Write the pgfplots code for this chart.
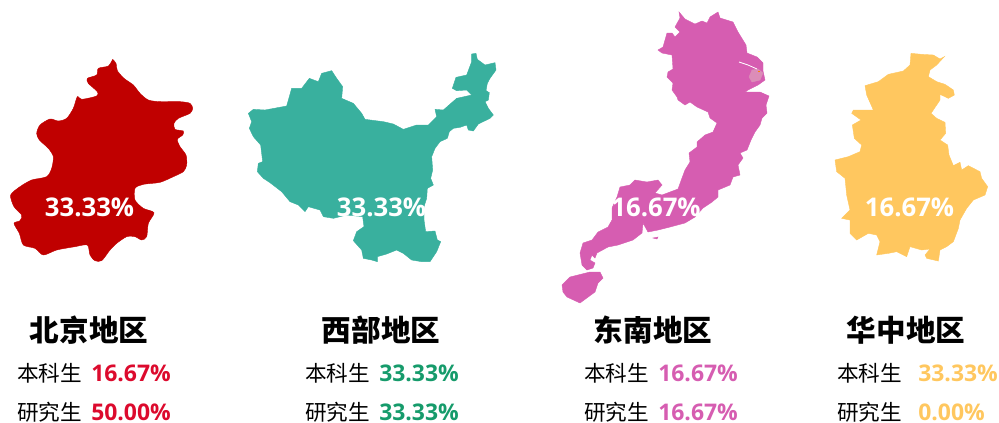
\documentclass[border=0pt]{standalone}
\usepackage{fontspec}
\usepackage{pgfplots}
\pgfplotsset{compat=1.18}
\setmainfont{Open Sans}
\newfontfamily\cjk{Noto Sans CJK SC}
\definecolor{cBeijing}{HTML}{C00000}
\definecolor{cWest}{HTML}{39B09E}
\definecolor{cSouth}{HTML}{D65DB1}
\definecolor{cCentral}{HTML}{FFC75F}
\definecolor{cRedText}{HTML}{DC0A2D}
\definecolor{cGreenText}{HTML}{169B6B}
\definecolor{cPatch}{HTML}{DC8DB8}
% one panel per region; coordinates are read off the picture, 1 px = 0.75pt
\pgfplotsset{
  map panel/.style={
    hide axis, scale only axis, clip=false, y dir=reverse,
    anchor=north west, enlargelimits=false,
  },
  region/.style={draw=#1, fill=#1, line width=0.3pt, forget plot},
}
\newcommand{\titlefont}{\cjk\fontsize{22.2}{24}\selectfont\bfseries}
\newcommand{\rowfont}{\cjk\fontsize{16.2}{18}\selectfont}
\newcommand{\pctfont}{\fontsize{17.2}{18}\selectfont\bfseries}
\newcommand{\mapfont}{\fontsize{19.3}{20}\selectfont\bfseries}
\begin{document}
\begin{tikzpicture}
\useasboundingbox (0,0) rectangle (749.25pt,-316.5pt);

% Beijing, zoomed px / 3
\begin{axis}[map panel, at={(0pt,-37.5pt)}, width=150pt, height=165pt, xmin=0, xmax=600, ymin=0, ymax=660]
\addplot[region=cBeijing, smooth, tension=0.45] coordinates {
(338,28)(348,40)(352,62)(372,85)(400,105)(420,130)(445,150)(480,155)(540,155)(570,160)(578,175)(570,190)(535,205)(522,220)(525,238)(550,243)(548,255)(532,268)(540,290)(558,315)(560,345)(550,365)(520,380)(480,397)(430,403)(405,415)(405,450)(430,475)(462,488)(445,520)(440,560)(425,570)(405,560)(380,560)(350,580)(330,600)(305,632)(285,632)(270,615)(262,585)(225,590)(170,600)(130,615)(105,595)(70,585)(58,550)(42,520)(60,512)(65,495)(42,470)(32,435)(60,410)(95,390)(140,380)(155,355)(160,320)(145,295)(118,270)(110,250)(120,225)(150,207)(175,213)(200,205)(220,175)(232,140)(245,148)(290,138)(292,125)(265,100)(262,85)(290,75)(295,55)(325,48)(338,28)
};
\end{axis}

% West
\begin{axis}[map panel, at={(180pt,-37.5pt)}, width=195pt, height=165pt, xmin=0, xmax=780, ymin=0, ymax=660]
\addplot[region=cWest] coordinates {
(695,12)(708,10)(712,28)(735,45)(765,38)(768,60)(750,85)(742,100)(738,122)(748,128)(745,150)(735,155)(745,175)(760,195)(750,205)(715,222)(700,243)(685,240)(680,225)(660,232)(640,235)(628,245)(622,265)(600,275)(585,295)(575,320)(578,360)(572,385)(580,405)(562,415)(560,445)(552,470)(552,510)(557,545)(585,543)(592,570)(602,575)(590,605)(570,635)(545,635)(515,630)(490,610)(470,600)(440,612)(412,620)(412,635)(395,630)(370,625)(365,600)(340,572)(350,545)(372,530)(368,500)(320,495)(280,505)(250,500)(240,480)(205,470)(195,485)(175,465)(150,455)(125,425)(90,398)(70,385)(52,365)(55,340)(68,335)(62,285)(40,260)(28,235)(35,215)(25,190)(40,178)(75,180)(140,168)(155,115)(185,115)(208,85)(235,95)(245,70)(275,62)(290,85)(308,110)(305,145)(340,160)(365,190)(375,208)(430,215)(460,222)(490,238)(530,225)(565,225)(590,200)(585,178)(610,180)(650,145)(695,135)(680,120)(650,122)(637,115)(648,82)(680,75)(695,35)
} -- cycle;
\end{axis}

% South-east, in picture px
\begin{axis}[map panel, at={(412.5pt,-3.75pt)}, width=172.5pt, height=228.75pt, xmin=550, xmax=780, ymin=5, ymax=310]
\addplot[region=cSouth] coordinates {
(679,12)(685,19)(695,24)(702,21)(707,23)(710,17)(718,12)(720,18)(733,22)(738,32)(746,45)(747,53)(757,57)(763,63)(763,71)(765,80)(758,85)(748,90)(745,92)(752,92)(760,92)(769,96)(766,105)(767,113)(762,118)(760,125)(755,132)(751,140)(747,150)(740,153)(743,158)(738,165)(740,175)(733,177)(730,185)(718,190)(718,197)(712,202)(703,208)(695,217)(685,223)(670,227)(658,230)(648,232)(643,223)(642,233)(633,240)(618,245)(608,247)(597,253)(595,258)(592,255)(590,260)(595,263)(593,268)(587,270)(582,265)(580,253)(583,243)(592,240)(598,232)(608,227)(612,220)(612,208)(617,197)(620,187)(630,185)(635,180)(647,182)(658,180)(662,185)(655,193)(662,195)(678,189)(682,178)(685,170)(690,162)(689,153)(697,147)(697,142)(705,135)(713,132)(717,123)(710,118)(708,112)(697,107)(690,102)(685,105)(678,100)(677,97)(672,90)(673,83)(667,77)(668,72)(673,69)(672,55)(662,53)(658,50)(663,47)(667,33)(672,33)(675,37)(680,32)(675,27)(680,18)
} -- cycle;
\addplot[region=cSouth] coordinates {
(562,285)(570,277)(590,272)(600,272)(603,278)(598,283)(595,292)(580,303)(567,297)(563,292)
} -- cycle;
\addplot[region=cSouth] coordinates {(653,238)(658,237)(657,239)} -- cycle;
\addplot[region=cPatch] coordinates {(752,70)(758,69)(763,73)(760,80)(752,82)(749,77)} -- cycle;
\addplot[white, line width=0.6pt, forget plot] coordinates {(739,62)(748,65)(757,69)};
\addplot[draw=orange, line width=1pt, forget plot] coordinates {(758,71.5)(760,71.5)};
\end{axis}

% Central
\begin{axis}[map panel, at={(618.75pt,-33.75pt)}, width=127.5pt, height=168.75pt, xmin=0, xmax=510, ymin=0, ymax=675]
\addplot[region=cCentral] coordinates {
(258,25)(290,28)(325,30)(345,42)(358,35)(335,60)(315,75)(310,95)(335,110)(360,118)(385,135)(388,150)(370,160)(345,148)(345,165)(335,180)(318,205)(335,220)(360,232)(362,265)(345,285)(368,300)(372,330)(385,362)(405,352)(410,375)(430,362)(465,380)(470,400)(488,425)(480,450)(445,465)(425,490)(405,525)(400,550)(385,590)(365,605)(345,615)(340,648)(305,640)(300,630)(315,612)(290,615)(255,605)(245,635)(215,620)(190,625)(155,630)(165,590)(155,570)(130,565)(95,585)(75,565)(75,525)(50,520)(75,495)(65,450)(60,400)(35,380)(30,345)(70,335)(105,320)(110,300)(88,280)(82,240)(108,225)(80,205)(85,195)(145,195)(125,150)(120,122)(160,110)(190,88)(235,78)(255,60)
} -- cycle;
\end{axis}

\begin{scope}[x=0.75pt, y=-0.75pt, every node/.style={inner sep=0pt}]
\node[white, font=\mapfont] at (89.5,207) {33.33\%};
\node[white, font=\mapfont] at (381.5,207) {33.33\%};
\node[white, font=\mapfont] at (656,207) {16.67\%};
\node[white, font=\mapfont] at (909.5,207) {16.67\%};

\node[font=\titlefont] at (89,330) {北京地区};
\node[font=\titlefont] at (381,330) {西部地区};
\node[font=\titlefont] at (653,330) {东南地区};
\node[font=\titlefont] at (906,330) {华中地区};

\node[anchor=west, font=\rowfont] at (17,373) {本科生};
\node[anchor=west, font=\rowfont] at (17,412) {研究生};
\node[anchor=west, font=\rowfont] at (305,373) {本科生};
\node[anchor=west, font=\rowfont] at (305,412) {研究生};
\node[anchor=west, font=\rowfont] at (584,373) {本科生};
\node[anchor=west, font=\rowfont] at (584,412) {研究生};
\node[anchor=west, font=\rowfont] at (837,373) {本科生};
\node[anchor=west, font=\rowfont] at (837,412) {研究生};

\node[anchor=west, font=\pctfont, text=cRedText] at (91,373.5) {16.67\%};
\node[anchor=west, font=\pctfont, text=cRedText] at (91,412) {50.00\%};
\node[anchor=west, font=\pctfont, text=cGreenText] at (379,373.5) {33.33\%};
\node[anchor=west, font=\pctfont, text=cGreenText] at (379,412) {33.33\%};
\node[anchor=west, font=\pctfont, text=cSouth] at (658,373.5) {16.67\%};
\node[anchor=west, font=\pctfont, text=cSouth] at (658,412) {16.67\%};
\node[anchor=west, font=\pctfont, text=cCentral] at (918,373.5) {33.33\%};
\node[anchor=west, font=\pctfont, text=cCentral] at (918,412) {0.00\%};
\end{scope}
\end{tikzpicture}
\end{document}
